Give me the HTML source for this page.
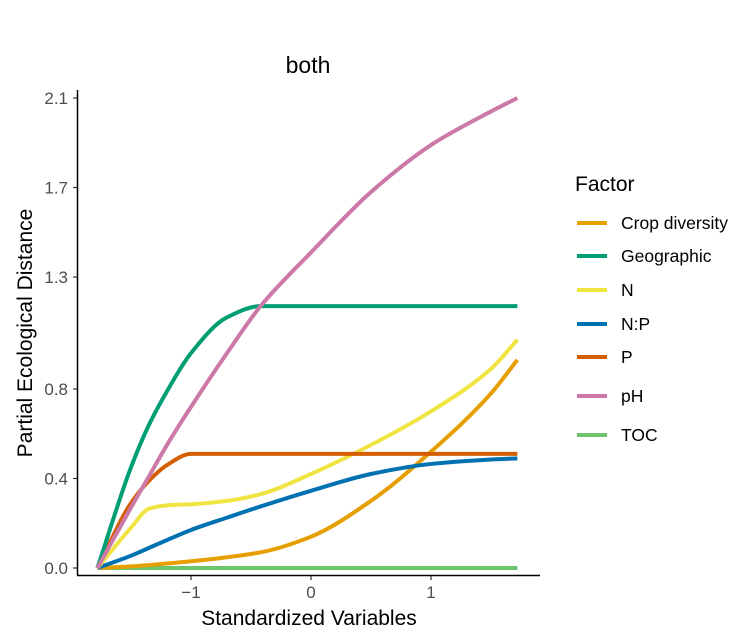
<!DOCTYPE html>
<html><head><meta charset="utf-8"><style>
body{margin:0;background:#fff;}
svg{display:block;font-family:"Liberation Sans",sans-serif;}
</style></head><body>
<svg id="chart" width="754" height="637" viewBox="0 0 754 637">
<rect width="754" height="637" fill="#fff"/>
<text x="308" y="73" font-size="23" text-anchor="middle">both</text>
<g id="plot"></g>
<line x1="77.5" y1="90" x2="77.5" y2="575.5" stroke="#000" stroke-width="1.5"/>
<line x1="77" y1="575.5" x2="540" y2="575.5" stroke="#000" stroke-width="1.5"/>
<g id="yticks"></g>
<g id="xticks"></g>
<text x="309" y="625" font-size="21" text-anchor="middle">Standardized Variables</text>
<text transform="translate(32,333) rotate(-90)" font-size="21" text-anchor="middle">Partial Ecological Distance</text>
<g id="legend">
<text x="575" y="191" font-size="21">Factor</text>
</g>
</svg>
<script>
const names=["Crop diversity","Geographic","N","N:P","P","pH","TOC"];
const colors=["#E69F00","#009E73","#F0E442","#0072B2","#D55E00","#CC79A7","#6CC46C"];
const xs=[-1.78,-1.5,-1.35,-1.2,-1,-0.7,-0.42,0,0.5,1,1.5,1.72];
const cropY=[0,0.007,0.013,0.02,0.03,0.048,0.07,0.14,0.3,0.52,0.78,0.93];
const geoY=[0,0.45,0.64,0.79,0.96,1.12,1.17,1.17,1.17,1.17,1.17,1.17];
const nY=[0,0.18,0.265,0.28,0.285,0.3,0.33,0.42,0.55,0.7,0.89,1.02];
const npY=[0,0.055,0.09,0.125,0.17,0.225,0.275,0.345,0.42,0.465,0.485,0.49];
const pY=[0,0.29,0.39,0.46,0.51,0.51,0.51,0.51,0.51,0.51,0.51,0.51];
const phY=[0,0.27,0.41,0.55,0.72,0.96,1.17,1.41,1.68,1.89,2.04,2.1];
const tocY=[0,0,0,0,0,0,0,0,0,0,0,0];
const series=[cropY,geoY,nY,npY,pY,phY,tocY];
const yTicks=[0,0.4,0.8,1.3,1.7,2.1];
const yLabels=["0.0","0.4","0.8","1.3","1.7","2.1"];
const xTicks=[-1,0,1];
const xLabels=["\u22121","0","1"];
const NS="http://www.w3.org/2000/svg";
const X=v=>311+v*120;
const Y=v=>568-v*223.8;
function path(px,py){
  const n=px.length,h=[],d=[],m=new Array(n);
  for(let i=0;i<n-1;i++){h[i]=px[i+1]-px[i];d[i]=(py[i+1]-py[i])/h[i];}
  m[0]=d[0];m[n-1]=d[n-2];
  for(let i=1;i<n-1;i++){
    if(d[i-1]*d[i]<=0)m[i]=0;
    else{const w1=2*h[i]+h[i-1],w2=h[i]+2*h[i-1];m[i]=(w1+w2)/(w1/d[i-1]+w2/d[i]);}
  }
  let s=`M${X(px[0])},${Y(py[0])}`;
  for(let i=0;i<n-1;i++){
    const a=px[i]+h[i]/3,b=px[i+1]-h[i]/3;
    s+=`C${X(a)},${Y(py[i]+m[i]*h[i]/3)} ${X(b)},${Y(py[i+1]-m[i+1]*h[i]/3)} ${X(px[i+1])},${Y(py[i+1])}`;
  }
  return s;
}
const plot=document.getElementById('plot');
[6,0,3,2,4,1,5].forEach(i=>{
  const el=document.createElementNS(NS,'path');
  el.setAttribute('d',path(xs,series[i]));
  el.setAttribute('fill','none');el.setAttribute('stroke',colors[i]);el.setAttribute('stroke-width','4');
  
  
  plot.appendChild(el);
});
const yt=document.getElementById('yticks');
yTicks.forEach((v,i)=>{
  const l=document.createElementNS(NS,'line');
  l.setAttribute('x1',73);l.setAttribute('x2',77);l.setAttribute('y1',Y(v));l.setAttribute('y2',Y(v));l.setAttribute('stroke','#333');l.setAttribute('stroke-width','1.2');
  
  
  yt.appendChild(l);
  const t=document.createElementNS(NS,'text');
  t.setAttribute('x',68);t.setAttribute('y',Y(v)+6);t.setAttribute('font-size','17');t.setAttribute('fill','#4d4d4d');t.setAttribute('text-anchor','end');
  t.textContent=yLabels[i];
  
  
  yt.appendChild(t);
});
const xt=document.getElementById('xticks');
xTicks.forEach((v,i)=>{
  const l=document.createElementNS(NS,'line');
  l.setAttribute('x1',X(v));l.setAttribute('x2',X(v));l.setAttribute('y1',576);l.setAttribute('y2',580);l.setAttribute('stroke','#333');l.setAttribute('stroke-width','1.2');
  
  
  xt.appendChild(l);
  const t=document.createElementNS(NS,'text');
  t.setAttribute('x',X(v));t.setAttribute('y',598);t.setAttribute('font-size','17');t.setAttribute('fill','#4d4d4d');t.setAttribute('text-anchor','middle');
  t.textContent=xLabels[i];
  
  
  xt.appendChild(t);
});
const lg=document.getElementById('legend');
const ly=[223,256,290,324,357,396,435];
names.forEach((n,i)=>{
  const g=document.createElementNS(NS,'g');
  
  
  const l=document.createElementNS(NS,'line');
  l.setAttribute('x1',577);l.setAttribute('x2',607);l.setAttribute('y1',ly[i]);l.setAttribute('y2',ly[i]);l.setAttribute('stroke',colors[i]);l.setAttribute('stroke-width','4');
  g.appendChild(l);
  const t=document.createElementNS(NS,'text');
  t.setAttribute('x',621);t.setAttribute('y',ly[i]+6);t.setAttribute('font-size','17.5');
  t.textContent=n;
  g.appendChild(t);
  lg.appendChild(g);
});
</script>
</body></html>
